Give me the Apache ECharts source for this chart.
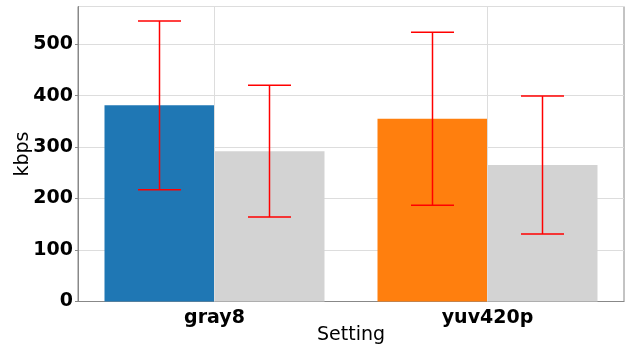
<!DOCTYPE html>
<html>
<head>
<meta charset="utf-8">
<script src="https://cdn.jsdelivr.net/npm/echarts@6/dist/echarts.min.js"></script>
<style>
  html, body { margin: 0; padding: 0; background: #fff; }
  #chart { width: 628px; height: 349px; }
</style>
</head>
<body>
<div id="chart"></div>
<script>
// Mean bitrate per pixel-format setting, with standard deviation
const categories = ['gray8', 'yuv420p'];
const mainMeans = [381, 355];
const mainStd = [164, 168];
const refMeans = [292, 265];
const refStd = [128, 134];
const mainColors = ['#1f77b4', '#ff7f0e'];
const yTicks = [0, 100, 200, 300, 400, 500];

const FONT = 'DejaVu Sans';
const BAR_W = 110;

function errData(means, std) {
  return means.map((m, i) => [i, m - std[i], m + std[i]]);
}

function errRenderer(offset) {
  return function (params, api) {
    const i = api.value(0);
    const lo = api.coord([i, api.value(1)]);
    const hi = api.coord([i, api.value(2)]);
    const x = lo[0] + offset;
    const cap = 21.5;
    const style = { stroke: '#ff0000', lineWidth: 1.5 };
    return {
      type: 'group',
      children: [
        { type: 'line', shape: { x1: x, y1: hi[1], x2: x, y2: lo[1] }, style },
        { type: 'line', shape: { x1: x - cap, y1: hi[1], x2: x + cap, y2: hi[1] }, style },
        { type: 'line', shape: { x1: x - cap, y1: lo[1], x2: x + cap, y2: lo[1] }, style }
      ]
    };
  };
}

const chart = echarts.init(document.getElementById('chart'), null, { renderer: 'canvas' });
chart.setOption({
  animation: false,
  grid: {
    left: 78, right: 4, top: 6.5, bottom: 47.5,
    containLabel: false, outerBoundsMode: 'none',
    show: true, borderColor: '#888', borderWidth: 1, backgroundColor: 'transparent'
  },
  xAxis: {
    type: 'category',
    data: categories,
    name: 'Setting',
    nameLocation: 'middle',
    nameGap: 24,
    nameMoveOverlap: false,
    nameTextStyle: { fontFamily: FONT, fontSize: 19, color: '#000' },
    axisLine: { lineStyle: { color: '#888' } },
    axisTick: { alignWithLabel: true, length: 4, lineStyle: { color: '#888' } },
    axisLabel: { fontFamily: FONT, fontSize: 19, fontWeight: 'bold', color: '#000', margin: 7 },
    splitLine: { show: false }
  },
  yAxis: {
    type: 'value',
    min: 0, max: 573, interval: 100,
    name: 'kbps',
    nameLocation: 'middle',
    nameGap: 45,
    nameMoveOverlap: false,
    nameTextStyle: { fontFamily: FONT, fontSize: 19, color: '#000' },
    axisLine: { show: true, lineStyle: { color: '#888' } },
    axisTick: { show: true, length: 3, lineStyle: { color: '#888' } },
    axisLabel: {
      fontFamily: FONT, fontSize: 19, fontWeight: 'bold', color: '#000', margin: 5,
      showMaxLabel: false,
      formatter: v => (yTicks.indexOf(v) >= 0 ? String(v) : '')
    },
    splitLine: { show: true, lineStyle: { color: '#dddddd', width: 1 } }
  },
  series: [
    {
      // vertical gridlines at category centres, kept behind the bars
      type: 'line', data: [], z: 0, silent: true,
      markLine: {
        silent: true, symbol: 'none', label: { show: false },
        lineStyle: { color: '#dddddd', type: 'solid', width: 1 },
        data: categories.map(c => ({ xAxis: c }))
      }
    },
    {
      type: 'bar', barWidth: BAR_W, barGap: '0%', z: 2,
      data: mainMeans.map((v, i) => ({ value: v, itemStyle: { color: mainColors[i] } }))
    },
    {
      type: 'bar', barWidth: BAR_W, barGap: '0%', z: 2,
      data: refMeans, itemStyle: { color: '#d3d3d3' }
    },
    {
      type: 'custom', z: 5,
      renderItem: errRenderer(-BAR_W / 2),
      data: errData(mainMeans, mainStd)
    },
    {
      type: 'custom', z: 5,
      renderItem: errRenderer(BAR_W / 2),
      data: errData(refMeans, refStd)
    }
  ]
});
</script>
</body>
</html>
